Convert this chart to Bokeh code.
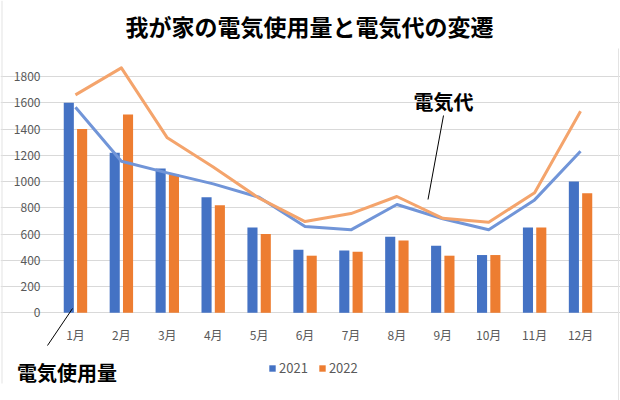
from bokeh.plotting import figure
from bokeh.models import (Label, Legend, LegendItem, Arrow, ColumnDataSource,
                          FixedTicker, Range1d)
from bokeh.transform import dodge
from bokeh.embed import file_html
from bokeh.resources import INLINE

months = ["1月", "2月", "3月", "4月", "5月", "6月", "7月", "8月", "9月", "10月", "11月", "12月"]
usage_2021 = [1600, 1220, 1100, 880, 650, 480, 475, 580, 510, 440, 650, 1000]
usage_2022 = [1400, 1510, 1055, 820, 600, 435, 465, 550, 435, 440, 650, 910]
cost_2021 = [1566, 1155, 1066, 982, 880, 657, 632, 825, 716, 632, 860, 1231]
cost_2022 = [1660, 1866, 1333, 1110, 873, 695, 756, 886, 720, 690, 914, 1536]
y_ticks = [0, 200, 400, 600, 800, 1000, 1200, 1400, 1600, 1800]
series_names = ["2021", "2022"]
title_text = "我が家の電気使用量と電気代の変遷"
label_cost = "電気代"
label_usage = "電気使用量"

FONT = "Noto Sans CJK JP"
BLUE = "#4472C4"
ORANGE = "#ED7D31"
BLUE_L = "#7195D8"
ORANGE_L = "#F4A46C"

W, H = 620, 400
# plot area: x 52..603 for 12 categories, y 0 at 312.3, 1800 at 76
PX_PER_CAT = (603 - 52) / len(months)
PX_PER_VAL = (312.3 - 76) / 1800

xpos = [i + 0.5 for i in range(len(months))]
src = ColumnDataSource(dict(x=xpos, u21=usage_2021, u22=usage_2022,
                            c21=cost_2021, c22=cost_2022))

p = figure(width=W, height=H,
           x_range=Range1d(-52 / PX_PER_CAT, len(months) + (W - 603) / PX_PER_CAT),
           y_range=Range1d(-(H - 312.3) / PX_PER_VAL, 312.3 / PX_PER_VAL),
           output_backend="svg", toolbar_location=None, min_border=0)
p.outline_line_color = None
p.background_fill_color = "white"
p.border_fill_color = "white"

b21 = p.vbar(x=dodge("x", -0.145), top="u21", width=0.22, source=src,
             fill_color=BLUE, line_color=None)
b22 = p.vbar(x=dodge("x", 0.145), top="u22", width=0.22, source=src,
             fill_color=ORANGE, line_color=None)
p.line(x="x", y="c21", source=src, line_color=BLUE_L, line_width=3, line_join="round")
p.line(x="x", y="c22", source=src, line_color=ORANGE_L, line_width=3, line_join="round")

p.yaxis.ticker = FixedTicker(ticks=y_ticks)
p.xaxis.ticker = FixedTicker(ticks=xpos)
p.xaxis.major_label_overrides = {x: m for x, m in zip(xpos, months)}
p.yaxis.fixed_location = 0
p.xaxis.fixed_location = 0
p.ygrid.ticker = FixedTicker(ticks=y_ticks)
p.ygrid.grid_line_color = "#D9D9D9"
p.ygrid.bounds = (0, len(months))
p.xgrid.grid_line_color = None
for ax in (p.xaxis[0], p.yaxis[0]):
    ax.major_tick_line_color = None
    ax.minor_tick_line_color = None
    ax.major_tick_out = 0
    ax.major_tick_in = 0
    ax.axis_line_color = None
    ax.major_label_text_color = "#595959"
    ax.major_label_text_font = FONT
    ax.major_label_text_font_size = "12px"
p.yaxis.major_label_standoff = 12
p.xaxis.major_label_standoff = 13

legend = Legend(items=[LegendItem(label=series_names[0], renderers=[b21]),
                       LegendItem(label=series_names[1], renderers=[b22])],
                location=(268, 23), orientation="horizontal")
legend.padding = 0
legend.margin = 0
legend.spacing = 10
legend.glyph_width = 8
legend.glyph_height = 8
legend.label_standoff = 3
legend.label_height = 16
legend.label_text_font = FONT
legend.label_text_font_size = "13px"
legend.label_text_color = "#595959"
legend.border_line_color = None
legend.background_fill_alpha = 0
p.add_layout(legend, "center")

def label(x, y, text, size):
    p.add_layout(Label(x=x, y=H - y, x_units="screen", y_units="screen", text=text,
                       text_font=FONT, text_font_size=size, text_font_style="bold",
                       text_align="center", text_baseline="middle", text_color="black"))

def leader(x0, y0, x1, y1, color="black"):
    p.add_layout(Arrow(end=None, x_start=x0, y_start=H - y0, x_end=x1, y_end=H - y1,
                       start_units="screen", end_units="screen",
                       line_color=color, line_width=1))

label(309, 25, title_text, "23px")
label(443, 101, label_cost, "20px")
label(66.5, 372, label_usage, "20px")
leader(443, 115, 427.5, 199)
leader(47, 345, 72, 308)
# faint frame edges of the original image
leader(1.5, 0, 1.5, 383, "#E3E3E3")
leader(618, 48, 618, 400, "#E3E3E3")

open("out.html", "w").write(file_html(p, INLINE))
